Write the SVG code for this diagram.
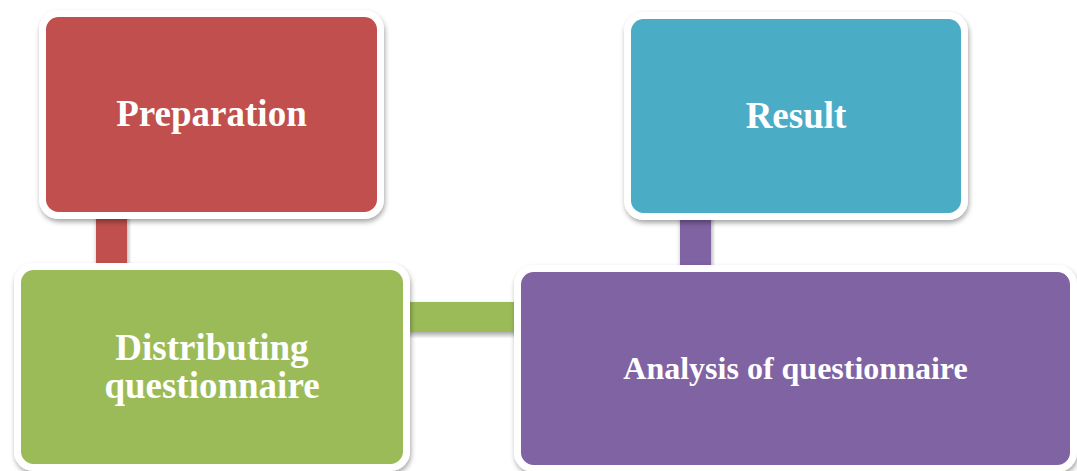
<svg xmlns="http://www.w3.org/2000/svg" width="1077" height="471" viewBox="0 0 1077 471">
  <defs>
    <filter id="sh" x="-10%" y="-10%" width="120%" height="130%">
      <feDropShadow dx="1" dy="3" stdDeviation="2.5" flood-color="#000" flood-opacity="0.35"/>
    </filter>
  </defs>
  <style>
    .box { stroke: #ffffff; stroke-width: 7; filter: url(#sh); }
    .lbl { font-family: "Liberation Serif", "Times New Roman", serif; font-weight: bold; fill: #ffffff; text-anchor: middle; }
    .conn { filter: url(#sh); }
  </style>
  <rect width="1077" height="471" fill="#ffffff"/>
  <g id="connectors">
    <rect class="conn" x="96" y="205" width="31" height="70" fill="#C0504D"/>
    <rect class="conn" x="398" y="302" width="127" height="30" fill="#9BBB59"/>
    <rect class="conn" x="680" y="205" width="31" height="75" fill="#8064A2"/>
  </g>
  <g id="preparation">
    <rect class="box" x="42.5" y="13.5" width="338" height="202" rx="16" fill="#C0504D"/>
    <text class="lbl" x="211.5" y="126" font-size="37">Preparation</text>
  </g>
  <g id="result">
    <rect class="box" x="627.5" y="15.5" width="337" height="201" rx="16" fill="#4BACC6"/>
    <text class="lbl" x="796" y="128" font-size="37">Result</text>
  </g>
  <g id="distributing">
    <rect class="box" x="17.5" y="266.5" width="389" height="201" rx="16" fill="#9BBB59"/>
    <text class="lbl" x="212" y="360" font-size="37">Distributing</text>
    <text class="lbl" x="212" y="398" font-size="37">questionnaire</text>
  </g>
  <g id="analysis">
    <rect class="box" x="517.5" y="268.5" width="556" height="200" rx="16" fill="#8064A2"/>
    <text class="lbl" x="795.5" y="379" font-size="32">Analysis of questionnaire</text>
  </g>
</svg>
